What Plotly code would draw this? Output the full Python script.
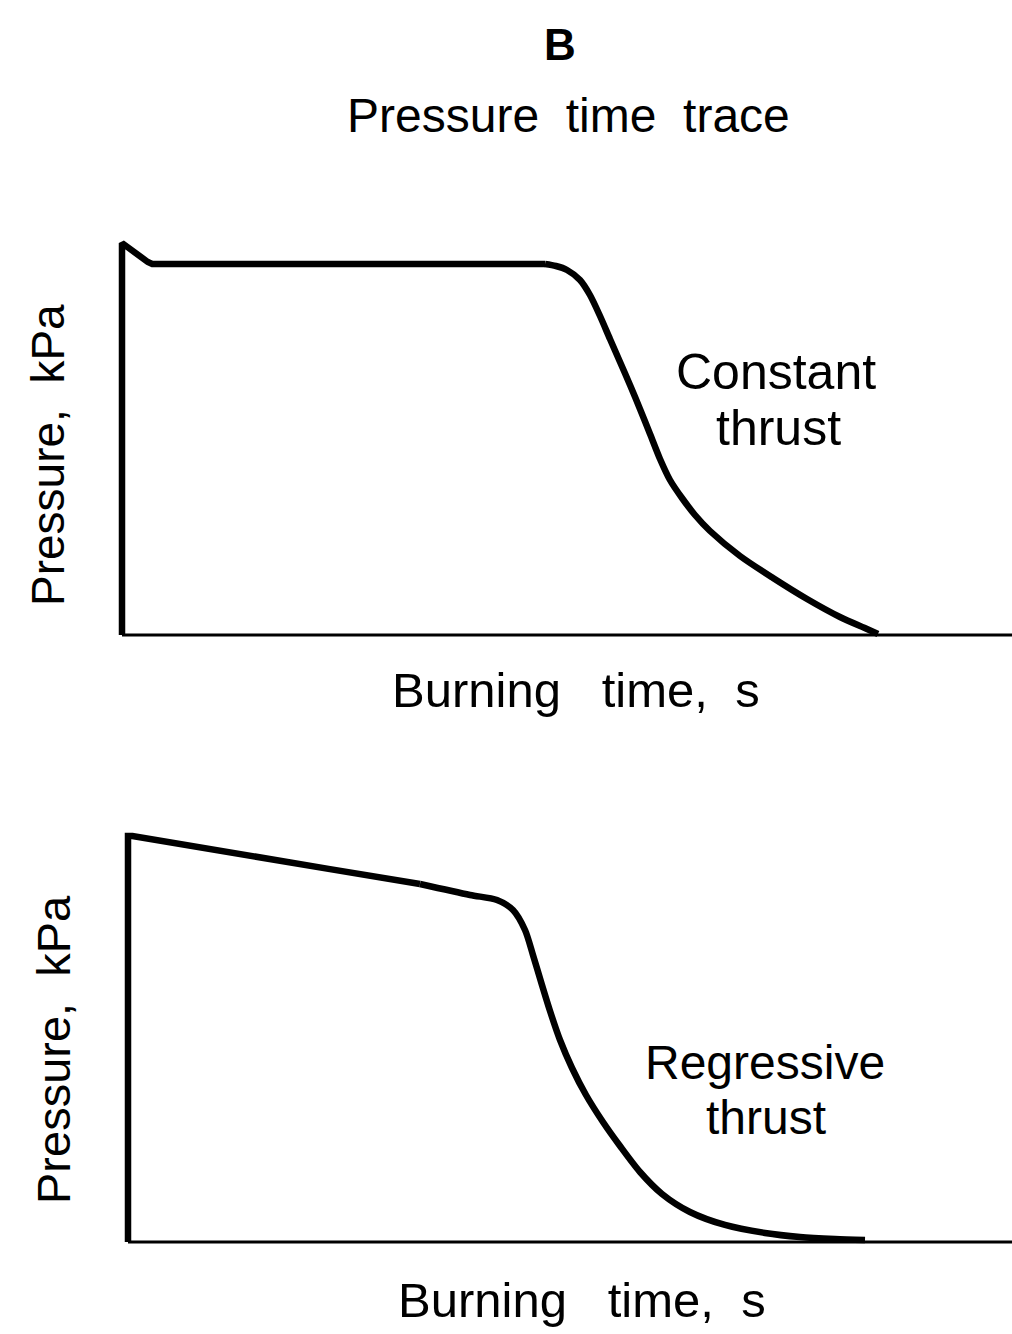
import plotly.graph_objects as go

# ---- Data (arbitrary units: time 0-100, pressure 0-100) ----
const_time = [0, 0, 2.9, 3.4, 47.53, 48.76, 50.0, 51.46, 52.58, 53.71, 54.83, 55.96, 57.08,
              58.2, 59.33, 60.45, 61.57, 62.92, 64.38, 66.07, 69.44, 73.15, 76.97, 80.67,
              83.71, 84.94]
const_pressure = [0, 98, 93.25, 92.75, 92.75, 92.25, 91.25, 88.75, 85.0, 79.75, 74.0, 68.25,
                  62.5, 56.5, 50.25, 44.0, 38.75, 34.25, 30.0, 26.0, 19.75, 14.25, 9.0, 4.5,
                  1.5, 0.25]

regr_time = [0, 0, 0.5, 13.8, 22.85, 33.03, 38.69, 41.74, 43.55, 44.91, 45.81, 46.83, 47.74,
             48.87, 50.23, 51.81, 53.73, 55.66, 57.92, 60.41, 63.57, 67.53, 72.06, 76.02,
             79.98, 83.37]
regr_pressure = [0, 96.9, 96.9, 92.4, 89.0, 85.44, 82.82, 81.62, 79.24, 74.46, 68.5, 61.34,
                 55.13, 48.21, 41.53, 35.08, 28.64, 22.91, 16.71, 11.46, 7.16, 4.06, 2.15,
                 1.19, 0.72, 0.48]

baseline_time = [0, 100]
baseline_pressure = [0, 0]

FONT = "Liberation Sans"
LW = 6.5

fig = go.Figure()

def add(x, y, xa, ya, width, shape="linear"):
    line = dict(color="black", width=width, shape=shape)
    if shape == "spline":
        line["smoothing"] = 0.8
    fig.add_trace(go.Scatter(x=x, y=y, mode="lines", line=line,
                             xaxis=xa, yaxis=ya, showlegend=False, hoverinfo="skip"))

# top panel: baseline, sharp start (vertical + spike + plateau), smooth decay
add(baseline_time, baseline_pressure, "x", "y", 3)
add(const_time[:5], const_pressure[:5], "x", "y", LW)
add(const_time[4:], const_pressure[4:], "x", "y", LW, "spline")
# bottom panel
add(baseline_time, baseline_pressure, "x2", "y2", 3)
add(regr_time[:6], regr_pressure[:6], "x2", "y2", LW)
add(regr_time[5:], regr_pressure[5:], "x2", "y2", LW, "spline")

W, H = 1012, 1334

def px(x):
    return x / W

def py(y):
    return 1 - y / H

S = "\u00a0"
ann = [
    dict(text="<b>B</b>", x=px(560), y=py(45), size=44),
    dict(text=f"Pressure{S*2}time{S*2}trace", x=px(568), y=py(116), size=48),
    dict(text="Constant", x=px(776), y=py(372), size=50),
    dict(text="thrust", x=px(778), y=py(428), size=50),
    dict(text=f"Burning{S*3}time,{S*2}s", x=px(576), y=py(690), size=49),
    dict(text=f"Pressure,{S*2}kPa", x=px(48), y=py(455), size=46, angle=-90),
    dict(text="Regressive", x=px(765), y=py(1062), size=48),
    dict(text="thrust", x=px(766), y=py(1117), size=48),
    dict(text=f"Burning{S*3}time,{S*2}s", x=px(582), y=py(1300), size=49),
    dict(text=f"Pressure,{S*2}kPa", x=px(53), y=py(1050), size=47, angle=-90),
]
annotations = []
for a in ann:
    annotations.append(dict(text=a["text"], x=a["x"], y=a["y"], xref="paper", yref="paper",
                            xanchor="center", yanchor="middle", showarrow=False,
                            textangle=a.get("angle", 0),
                            font=dict(family=FONT, size=a["size"], color="black")))

fig.update_layout(
    width=W, height=H,
    margin=dict(l=0, r=0, t=0, b=0),
    paper_bgcolor="white", plot_bgcolor="white",
    xaxis=dict(domain=[100 / W, 1], range=[-22 / 8.9, 100], visible=False, fixedrange=True),
    yaxis=dict(domain=[1 - 645 / H, 1 - 230 / H], range=[-10 / 4, 405 / 4], visible=False,
               fixedrange=True),
    xaxis2=dict(domain=[108 / W, 1], range=[-20 / 8.84, 100], visible=False, fixedrange=True),
    yaxis2=dict(domain=[1 - 1255 / H, 1 - 820 / H], range=[-13 / 4.19, 422 / 4.19],
                visible=False, fixedrange=True),
    annotations=annotations,
)

fig.write_html("out.html", config={"displayModeBar": False},
               post_script="document.body.style.margin='0';document.body.style.padding='0';")
